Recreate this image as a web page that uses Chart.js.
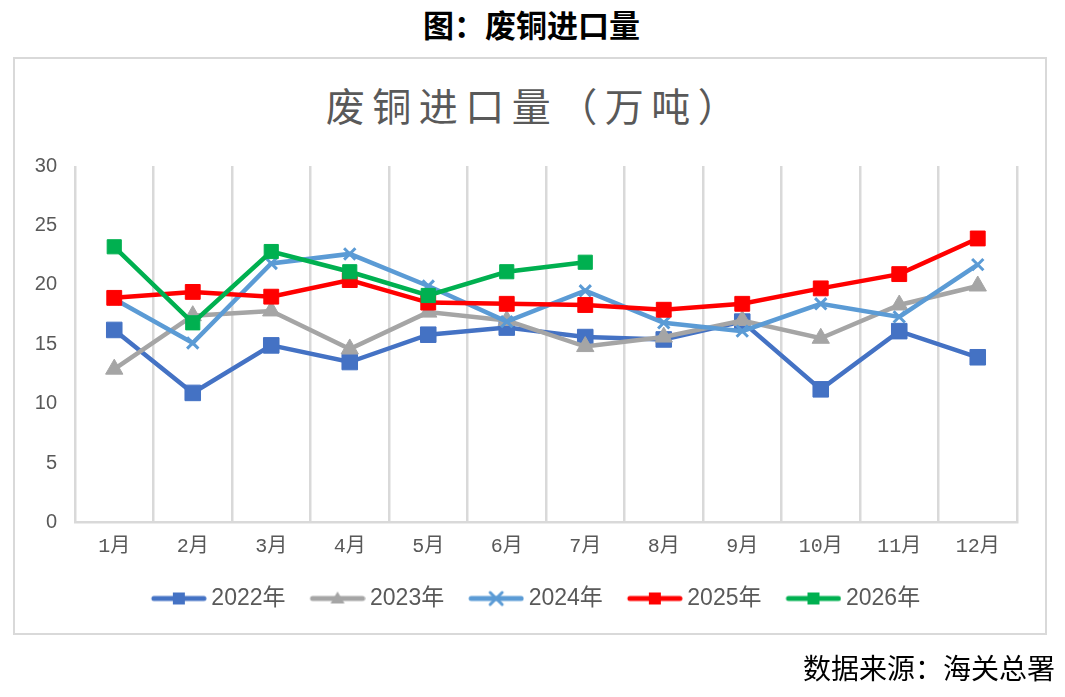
<!DOCTYPE html>
<html>
<head>
<meta charset="utf-8">
<script src="https://cdn.jsdelivr.net/npm/chart.js@4"></script>
<style>
  body { margin: 0; background: #fff; }
  #page { position: relative; width: 1065px; height: 697px; overflow: hidden; }
  #t1 { position: absolute; left: 0; top: 1px; width: 1063px; text-align: center;
        font: bold 31px "Noto Sans CJK SC"; color: #000; }
  #box { position: absolute; left: 13px; top: 57px; width: 1034px; height: 578px;
         box-sizing: border-box; border: 2px solid #d9d9d9; }
  #t2 { position: absolute; left: 21px; top: 76px; width: 1028px; text-align: center;
        font: 39px "Noto Sans CJK SC"; letter-spacing: 7.5px; color: #595959; }
  #src { position: absolute; right: 10px; top: 647px;
         font: 28px "Noto Sans CJK SC"; color: #000; }
  #myChart { position: absolute; left: 0; top: 0; }
</style>
</head>
<body>
<div id="page">
  <div id="t1">图：废铜进口量</div>
  <div id="box"></div>
  <div id="t2">废铜进口量（万吨）</div>
  <canvas id="myChart" width="1065" height="697"></canvas>
  <div id="src">数据来源：海关总署</div>
</div>
<script>
const months = ['1月', '2月', '3月', '4月', '5月', '6月', '7月', '8月', '9月', '10月', '11月', '12月'];
const seriesNames = ['2022年', '2023年', '2024年', '2025年', '2026年'];

const y2022 = [16.2, 10.9, 14.9, 13.5, 15.8, 16.4, 15.6, 15.4, 16.9, 11.2, 16.1, 13.9];
const y2023 = [12.9, 17.4, 17.8, 14.6, 17.7, 17.0, 14.8, 15.6, 17.0, 15.5, 18.3, 19.9];
const y2024 = [18.8, 15.1, 21.8, 22.6, 19.9, 16.9, 19.5, 16.8, 16.1, 18.4, 17.3, 21.7];
const y2025 = [18.9, 19.4, 19.0, 20.4, 18.5, 18.4, 18.3, 17.9, 18.4, 19.7, 20.9, 23.9];
const y2026 = [23.2, 16.8, 22.8, 21.1, 19.1, 21.1, 21.9];

const yTicks = [0, 5, 10, 15, 20, 25, 30];

const colors = ['#4472C4', '#A5A5A5', '#5B9BD5', '#FF0000', '#00B050'];
const styles = ['rect', 'triangle', 'crossRot', 'rect', 'rect'];
const radii = [11, 10, 8, 10.5, 10];
const values = [y2022, y2023, y2024, y2025, y2026];

// legend icons: line with the marker in the middle (line pushed 7px right of the box)
function legendIcon(color, style) {
  const c = document.createElement('canvas');
  c.width = 62; c.height = 20;
  const g = c.getContext('2d');
  g.strokeStyle = color;
  g.fillStyle = color;
  g.lineWidth = 5;
  g.lineCap = 'round';
  g.beginPath(); g.moveTo(9, 10); g.lineTo(59, 10); g.stroke();
  const cx = 34;
  if (style === 'rect') {
    g.fillRect(cx - 6, 10 - 6, 12, 12);
  } else if (style === 'triangle') {
    g.beginPath(); g.moveTo(cx, 3); g.lineTo(cx + 7, 15); g.lineTo(cx - 7, 15); g.closePath(); g.fill();
  } else {
    g.lineWidth = 3;
    g.beginPath(); g.moveTo(cx - 6, 4); g.lineTo(cx + 6, 16); g.moveTo(cx + 6, 4); g.lineTo(cx - 6, 16); g.stroke();
  }
  return c;
}
const icons = colors.map((c, i) => legendIcon(c, styles[i]));

// nudge the legend row a bit to the left, like the excel one
const legendShift = {
  id: 'legendShift',
  afterLayout(chart) {
    chart.legend.left -= 10;
    chart.legend.right -= 10;
  }
};

const data = {
  labels: months,
  datasets: seriesNames.map((name, i) => ({
    label: name,
    data: values[i],
    borderColor: colors[i],
    backgroundColor: colors[i],
    borderWidth: 4.5,
    pointStyle: styles[i],
    pointRadius: radii[i],
    pointBorderWidth: styles[i] === 'crossRot' ? 3 : 1,
    pointBorderColor: colors[i],
    pointBackgroundColor: colors[i],
    tension: 0,
    order: 5 - i
  }))
};

const config = {
  type: 'line',
  data: data,
  options: {
    responsive: false,
    animation: false,
    layout: { padding: { left: 14, right: 48, top: 166, bottom: 77 } },
    scales: {
      x: {
        offset: true,
        grid: { offset: true, color: '#d9d9d9', lineWidth: 2.5, drawTicks: false },
        border: { display: true, color: '#d9d9d9', width: 2.5 },
        ticks: { color: '#595959', font: { family: 'Liberation Mono, Noto Sans CJK SC', size: 20 }, padding: 12, maxRotation: 0, autoSkip: false },
        afterFit: s => { s.height = 39.6; }
      },
      y: {
        min: 0, max: 30,
        afterBuildTicks: s => { s.ticks = yTicks.map(v => ({ value: v })); },
        grid: { display: false, drawTicks: false },
        border: { display: false },
        ticks: { color: '#595959', font: { family: 'Liberation Sans', size: 20 }, padding: 18 },
        afterFit: s => { s.width = 61; }
      }
    },
    plugins: {
      tooltip: { enabled: false },
      legend: {
        position: 'bottom',
        fullSize: false,
        labels: {
          usePointStyle: true,
          pointStyleWidth: 48,
          padding: 25,
          color: '#595959',
          font: { family: 'Liberation Sans, Noto Sans CJK SC', size: 23 },
          generateLabels: chart => chart.data.datasets.map((d, i) => ({
            text: d.label,
            pointStyle: icons[i],
            fillStyle: colors[i],
            strokeStyle: colors[i],
            lineWidth: 0,
            hidden: false,
            datasetIndex: i,
            fontColor: '#595959'
          }))
        }
      }
    }
  },
  plugins: [legendShift]
};

const myChart = new Chart(document.getElementById('myChart'), config);
</script>
</body>
</html>
